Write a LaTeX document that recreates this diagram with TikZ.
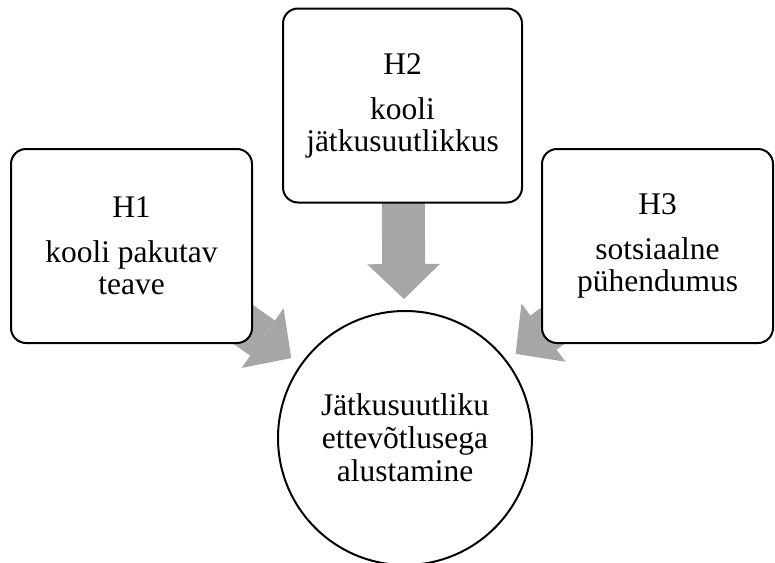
\documentclass[tikz,border=0pt]{standalone}
\usepackage{fontspec}
\setmainfont{Liberation Serif}
\usetikzlibrary{arrows.meta,backgrounds}
\definecolor{arrowgray}{RGB}{166,166,166}

\begin{document}
\begin{tikzpicture}[x=1pt,y=-1pt,
  hbox/.style={draw,line width=2pt,rounded corners=15pt,fill=white,minimum height=194pt,align=center,font=\fontsize{31.5}{32}\selectfont,inner sep=0pt},
  goal/.style={draw,circle,line width=2pt,fill=white,minimum size=254pt,align=center,font=\fontsize{31.5}{33}\selectfont,inner sep=0pt},
  bigarrow/.style={arrowgray,line width=43pt,-{Triangle[length=35pt,width=73pt,line width=0pt]},shorten >=139pt}]
\useasboundingbox (0,0) rectangle (775,562);
\node[hbox,minimum width=241pt] (h1) at (131.5,246) {H1\\[13pt]kooli pakutav\\teave};
\node[hbox,minimum width=239pt] (h2) at (402.5,105.5) {H2\\[13pt]kooli\\jätkusuutlikkus};
\node[hbox,minimum width=231pt] (h3) at (657.5,246) {H3\\[13pt]sotsiaalne\\pühendumus};
\node[goal] (c) at (405,438) {Jätkusuutliku\\ettevõtlusega\\alustamine};
\begin{pgfonlayer}{background}
\draw[bigarrow] (h1.center) -- (c.center);
\draw[bigarrow] (h2.center) -- (c.center);
\draw[bigarrow] (h3.center) -- (c.center);
\end{pgfonlayer}
\end{tikzpicture}
\end{document}
